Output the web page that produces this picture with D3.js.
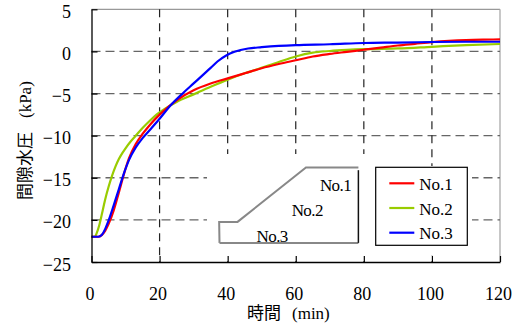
<!DOCTYPE html>
<html>
<head>
<meta charset="UTF-8">
<style>
  body { margin: 0; padding: 0; background: #fff; }
  svg { display: block; }
  .serif { font-family: "Liberation Serif", "Times New Roman", Times, "DejaVu Serif", serif; }
  .cjk { font-family: "Noto Sans CJK JP", sans-serif; }
</style>
</head>
<body>
<svg></svg>
<script src="https://d3js.org/d3.v7.min.js"></script>
<script>
// --- data (time in min, pore pressure in kPa) ---
const timeNo1 = [0, 2, 3, 4, 5, 6.5, 8, 9.5, 11, 13, 15, 17.2, 20, 25, 30, 35, 40, 45, 50, 55, 60, 65, 70, 75, 80, 85, 90, 95, 100, 105, 110, 115, 120];
const presNo1 = [-22, -22, -21.8, -21.3, -20.5, -18.9, -16.8, -14.6, -12.7, -11.0, -9.8, -8.7, -7.5, -5.8, -4.6, -3.8, -3.2, -2.6, -2.0, -1.5, -1.05, -0.6, -0.3, -0.05, 0.2, 0.45, 0.7, 0.9, 1.1, 1.25, 1.35, 1.4, 1.42];

const timeNo2 = [0, 1, 1.5, 2.3, 3, 4, 5, 6, 7, 8, 9, 10, 11.5, 12.8, 15, 17.2, 19.1, 22, 25, 30, 35, 40, 45, 48.5, 55, 60, 65, 70, 75, 80, 90, 100, 110, 120];
const presNo2 = [-22, -22, -21.6, -20.6, -19.4, -17.6, -16.1, -14.8, -13.7, -12.8, -12.1, -11.5, -10.7, -10.1, -9.1, -8.2, -7.5, -6.7, -6.0, -5.1, -4.2, -3.35, -2.6, -2.15, -1.25, -0.6, -0.15, 0.05, 0.18, 0.27, 0.35, 0.55, 0.75, 0.88];

const timeNo3 = [0, 2, 3, 4, 5, 6.5, 8, 9.5, 11, 13, 15, 17.2, 20, 23, 27, 30, 33, 35, 37, 39.7, 42, 46, 50, 55, 60, 70, 80, 90, 100, 110, 120];
const presNo3 = [-22, -22, -21.8, -21.1, -20.1, -18.3, -16.4, -14.5, -12.9, -11.4, -10.3, -9.3, -8.0, -6.5, -4.9, -3.8, -2.7, -1.95, -1.2, -0.45, -0.05, 0.35, 0.5, 0.65, 0.75, 0.85, 1.0, 1.05, 1.12, 1.15, 1.15];

const seriesNames = ["No.1", "No.2", "No.3"];
const seriesColors = ["#ff0000", "#99cc00", "#0000ff"];

const xTicks = [0, 20, 40, 60, 80, 100, 120];
const yTicks = [-25, -20, -15, -10, -5, 0, 5];

// inset sketch (slope section) in data units
const slopeOutline = [[37.6, -22.73], [37.5, -20.24], [42.9, -20.24], [63.0, -13.78], [78.4, -13.78]];
const slopeBase = [[37.6, -22.73], [78.4, -22.73]];
const slopeLabels = [
  { name: "No.1", t: 67.1, p: -16.56 },
  { name: "No.2", t: 58.8, p: -19.56 },
  { name: "No.3", t: 48.5, p: -22.6 }
];

const width = 531, height = 329;
const svg = d3.select("svg").attr("width", width).attr("height", height);

const x = d3.scaleLinear().domain([0, 120]).range([91.5, 500]);
const y = d3.scaleLinear().domain([-25, 5]).range([262, 9.3]);

// frame: top and right in gray
svg.append("line").attr("x1", x(0)).attr("x2", x(120)).attr("y1", y(5)).attr("y2", y(5))
  .attr("stroke", "#999").attr("stroke-width", 1.3);
svg.append("line").attr("x1", x(120)).attr("x2", x(120)).attr("y1", y(5)).attr("y2", y(-25))
  .attr("stroke", "#aaa").attr("stroke-width", 1.3);

// grid
svg.append("g").selectAll("line")
  .data(yTicks.filter(d => d > -25 && d < 5))
  .enter().append("line")
  .attr("x1", x(0)).attr("x2", x(120))
  .attr("y1", d => y(d)).attr("y2", d => y(d))
  .attr("stroke", "#666").attr("stroke-width", 1.3)
  .attr("stroke-dasharray", "9,5");

svg.append("g").selectAll("line")
  .data(xTicks.filter(d => d > 0 && d < 120))
  .enter().append("line")
  .attr("x1", d => x(d)).attr("x2", d => x(d))
  .attr("y1", y(5)).attr("y2", y(-25))
  .attr("stroke", "#222").attr("stroke-width", 1.2)
  .attr("stroke-dasharray", "8,6");

// curves
const line = d3.line()
  .x(d => x(d[0]))
  .y(d => y(d[1]))
  .curve(d3.curveMonotoneX);

const series = [
  d3.zip(timeNo1, presNo1),
  d3.zip(timeNo2, presNo2),
  d3.zip(timeNo3, presNo3)
];

// green under, then red, blue on top
[1, 0, 2].forEach(i => {
  svg.append("path")
    .attr("d", line(series[i]))
    .attr("fill", "none")
    .attr("stroke", seriesColors[i])
    .attr("stroke-width", 2.2);
});

// inset background
svg.append("rect")
  .attr("x", 207).attr("y", 154)
  .attr("width", 166).attr("height", 104)
  .attr("fill", "#fff");

// legend background
svg.append("rect")
  .attr("x", 372).attr("y", 166)
  .attr("width", 100).attr("height", 89)
  .attr("fill", "#fff");

// axes
const xAxis = d3.axisBottom(x).tickValues(xTicks).tickSizeInner(-6).tickSizeOuter(0).tickPadding(25);
const gx = svg.append("g").attr("transform", `translate(0,${y(-25)})`).call(xAxis);
gx.attr("font-family", null).attr("font-size", null);
gx.select(".domain").attr("stroke", "#000").attr("stroke-width", 1.3);
gx.selectAll(".tick line").attr("stroke", "#000").attr("stroke-width", 1.2);
gx.selectAll(".tick text")
  .attr("class", "serif").style("font-size", "18px").attr("fill", "#000").attr("dx", -2);

const yAxis = d3.axisLeft(y).tickValues(yTicks).tickSizeInner(-6).tickSizeOuter(0).tickPadding(20.5);
const gy = svg.append("g").attr("transform", `translate(${x(0)},0)`).call(yAxis);
gy.attr("font-family", null).attr("font-size", null);
gy.select(".domain").attr("stroke", "#000").attr("stroke-width", 1.3);
gy.selectAll(".tick line").attr("stroke", "#000").attr("stroke-width", 1.2);
gy.selectAll(".tick text")
  .attr("class", "serif").style("font-size", "18px").attr("fill", "#000").attr("dy", "0.45em");

// axis titles
const xt = svg.append("text").attr("x", 247).attr("y", 319).attr("fill", "#000");
xt.append("tspan").attr("class", "cjk").style("font-size", "17px").text("時間");
xt.append("tspan").attr("class", "serif").style("font-size", "17px").attr("dx", 11).text("(min)");

const yt = svg.append("text").attr("transform", "translate(31,200) rotate(-90)").attr("fill", "#000");
yt.append("tspan").attr("class", "cjk").style("font-size", "17px").text("間隙水圧");
yt.append("tspan").attr("class", "serif").style("font-size", "17px").attr("dx", 14).text("(kPa)");

// inset sketch
svg.append("g").selectAll("text")
  .data(slopeLabels)
  .enter().append("text")
  .attr("class", "serif")
  .attr("x", d => x(d.t)).attr("y", d => y(d.p))
  .style("font-size", "17px")
  .style("letter-spacing", "-0.6px")
  .attr("fill", "#000")
  .text(d => d.name);

const sketchLine = d3.line().x(d => x(d[0])).y(d => y(d[1]));
svg.append("path").attr("d", sketchLine(slopeOutline))
  .attr("fill", "none").attr("stroke", "#888").attr("stroke-width", 2);
svg.append("path").attr("d", sketchLine(slopeBase))
  .attr("fill", "none").attr("stroke", "#888").attr("stroke-width", 2);
svg.append("line")
  .attr("x1", x(78.4)).attr("x2", x(78.4))
  .attr("y1", y(-14.1)).attr("y2", y(-22.73))
  .attr("stroke", "#111").attr("stroke-width", 1.5);

// legend
const legend = svg.append("g").attr("transform", "translate(375.7,167.3)");
legend.append("rect")
  .attr("width", 91.6).attr("height", 78)
  .attr("fill", "#fff").attr("stroke", "#000").attr("stroke-width", 1.2);

seriesNames.forEach((name, i) => {
  const row = legend.append("g").attr("transform", `translate(0,${16 + i * 24.7})`);
  row.append("line")
    .attr("x1", 13.6).attr("x2", 38.6)
    .attr("stroke", seriesColors[i]).attr("stroke-width", 2.2);
  row.append("text")
    .attr("class", "serif")
    .attr("x", 43.6).attr("y", 6.5)
    .style("font-size", "17px").attr("fill", "#000")
    .text(name);
});
</script>
</body>
</html>
